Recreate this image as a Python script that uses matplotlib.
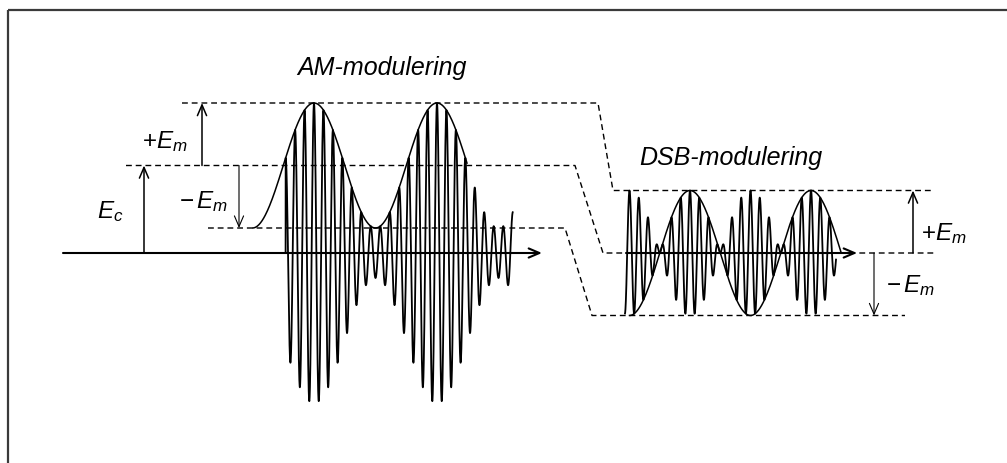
import numpy as np
import matplotlib
matplotlib.use('Agg')
import matplotlib.pyplot as plt

plt.rcParams['font.family'] = ['Liberation Sans', 'DejaVu Sans']
plt.rcParams['mathtext.fontset'] = 'custom'
plt.rcParams['mathtext.rm'] = 'Liberation Sans'
plt.rcParams['mathtext.it'] = 'Liberation Sans:italic'

# --- nivåer (px över tidsaxeln) ---
Ec = 87.5
Em = 62.5

# AM-signal: envelopens toppar, period och antal bärvågsperioder per period
am_peaks = [314, 437]
am_period = 123
am_cycles = 13
am_env_span = [253, 467]
am_sig_span = [285.6, 512.7]
am_axis = [63, 542]

# DSB-signal
dsb_peaks = [690, 811]
dsb_period = 121
dsb_cycles = 13
dsb_env_span = [629.5, 841.25]
dsb_sig_span = [625, 836]
dsb_axis = [626, 857]

# streckade hjälplinjer (x-brytpunkter, nivåer)
guide_top_x = [182, 598, 613, 932]
guide_top_y = [Ec + Em, Ec + Em, Em, Em]
guide_mid_x = [126, 575, 603, 937]
guide_mid_y = [Ec, Ec, 0, 0]
guide_bot_x = [208, 565, 592, 905]
guide_bot_y = [Ec - Em, Ec - Em, -Em, -Em]

W, H = 1007, 463
fig = plt.figure(figsize=(W / 100, H / 100), dpi=100)
ax = fig.add_axes([0, 0, 1, 1])
ax.set_xlim(0, W)
ax.set_ylim(253 - H, 253)
ax.axis('off')

# ram (övre och vänstra kanten)
ax.plot([8, W], [243, 243], color='#3a3a3a', lw=1.6, solid_capstyle='butt')
ax.plot([8, 8], [243, 253 - H], color='#3a3a3a', lw=1.6, solid_capstyle='butt')

dash = dict(color='black', lw=1.0, ls=(0, (4.2, 2.8)))
ax.plot(guide_top_x, guide_top_y, **dash)
ax.plot(guide_mid_x, guide_mid_y, **dash)
ax.plot(guide_bot_x, guide_bot_y, **dash)

arr = dict(arrowstyle='->,head_length=0.7,head_width=0.3', color='black',
           lw=1.5, shrinkA=0, shrinkB=0, mutation_scale=11)

# tidsaxlar
ax.annotate('', xy=(am_axis[1], 0), xytext=(am_axis[0], 0), arrowprops=arr)
ax.annotate('', xy=(dsb_axis[1], 0), xytext=(dsb_axis[0], 0), arrowprops=arr)

# AM
tc = am_period / am_cycles
x = np.linspace(am_sig_span[0], am_sig_span[1], 6000)
env = Ec + Em * np.cos(2 * np.pi * (x - am_peaks[0]) / am_period)
sig = env * np.cos(2 * np.pi * (x - am_peaks[0]) / tc)
ax.plot(np.r_[x[0], x], np.r_[0, sig], color='black', lw=1.3)
xe = np.linspace(am_env_span[0], am_env_span[1], 400)
ax.plot(xe, Ec + Em * np.cos(2 * np.pi * (xe - am_peaks[0]) / am_period),
        color='black', lw=1.1)

# DSB
tc2 = dsb_period / dsb_cycles
x2 = np.linspace(dsb_sig_span[0], dsb_sig_span[1], 6000)
env2 = Em * np.cos(2 * np.pi * (x2 - dsb_peaks[0]) / dsb_period)
sig2 = env2 * np.cos(2 * np.pi * (x2 - dsb_peaks[0]) / tc2)
ax.plot(x2, sig2, color='black', lw=1.3)
xe2 = np.linspace(dsb_env_span[0], dsb_env_span[1], 400)
ax.plot(xe2, Em * np.cos(2 * np.pi * (xe2 - dsb_peaks[0]) / dsb_period),
        color='black', lw=1.1)

# pilar för nivåerna
thin = dict(arr, lw=1.1)
ax.annotate('', xy=(144, Ec), xytext=(144, 0), arrowprops=thin)
ax.annotate('', xy=(202, Ec + Em), xytext=(202, Ec), arrowprops=thin)
ax.annotate('', xy=(239, Ec - Em), xytext=(239, Ec), arrowprops=dict(thin, lw=0.8))
ax.annotate('', xy=(913, Em), xytext=(913, 0), arrowprops=thin)
ax.annotate('', xy=(874, -Em), xytext=(874, 0), arrowprops=dict(thin, lw=0.8))

# texter
ax.text(382, 253 - 75, 'AM-modulering', style='italic', fontsize=18,
        ha='center', va='baseline')
ax.text(731, 253 - 165, 'DSB-modulering', style='italic', fontsize=18,
        ha='center', va='baseline')
lab = dict(fontsize=17.5, ha='left', va='baseline')
ax.text(142, 253 - 148, r'$+E_m$', **lab)
ax.text(97, 253 - 218, r'$E_c$', **lab)
ax.text(179, 253 - 208, r'$-\,E_m$', **lab)
ax.text(921, 253 - 240, r'$+E_m$', **lab)
ax.text(886, 253 - 292, r'$-\,E_m$', **lab)

fig.savefig('out.png', dpi=100)
